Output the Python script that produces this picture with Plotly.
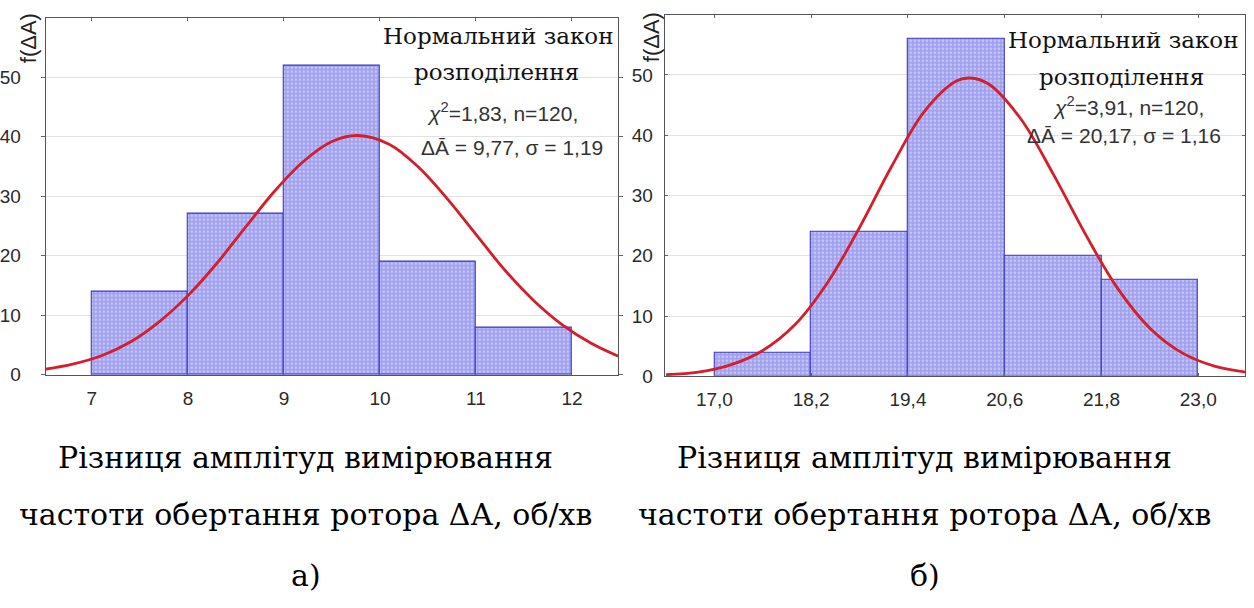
import plotly.graph_objects as go

W, H = 1254, 608

# ---- data (a) ----
edges_a = [7, 8, 9, 10, 11, 12]
counts_a = [14, 27, 52, 19, 8]
curve_a_x = [6.5, 6.8, 7.1, 7.4, 7.7, 8.0, 8.3, 8.6, 8.9, 9.2, 9.5, 9.77, 10.1, 10.4, 10.7, 11.0, 11.3, 11.6, 11.9, 12.2, 12.5]
curve_a_y = [0.9, 1.8, 3.2, 5.5, 8.9, 13.3, 18.7, 24.8, 30.8, 35.8, 39.2, 40.2, 38.7, 34.9, 29.6, 23.6, 17.6, 12.5, 8.4, 5.3, 3.0]
xticks_a = [7, 8, 9, 10, 11, 12]
xticktext_a = ["7", "8", "9", "10", "11", "12"]

# ---- data (б) ----
edges_b = [17.0, 18.2, 19.4, 20.6, 21.8, 23.0]
counts_b = [4, 24, 56, 20, 16]
curve_b_x = [16.4, 16.8, 17.2, 17.6, 18.0, 18.4, 18.8, 19.2, 19.6, 20.0, 20.17, 20.4, 20.8, 21.2, 21.6, 22.0, 22.4, 22.8, 23.2, 23.6]
curve_b_y = [0.3, 0.7, 1.9, 4.3, 8.6, 15.5, 24.7, 34.9, 43.9, 49.0, 49.5, 48.5, 42.7, 33.6, 23.6, 14.6, 8.0, 3.9, 1.7, 0.7]
xticks_b = [17.0, 18.2, 19.4, 20.6, 21.8, 23.0]
xticktext_b = ["17,0", "18,2", "19,4", "20,6", "21,8", "23,0"]

yticks = [0, 10, 20, 30, 40, 50]

stats_a = ["Нормальний закон", "розподілення", "<i>χ</i><sup>2</sup>=1,83, n=120,", "ΔĀ = 9,77, σ = 1,19"]
stats_b = ["Нормальний закон", "розподілення", "<i>χ</i><sup>2</sup>=3,91, n=120,", "ΔĀ = 20,17, σ = 1,16"]
caption_lines = ["Різниця амплітуд вимірювання", "частоти обертання ротора ΔА, об/хв"]
panel_labels = ["а)", "б)"]
ytitle = "f(ΔA)"


def px(x):
    return x / W


def py(y):
    return 1 - y / H


BAR_FILL = "#a0a0f0"
BAR_LINE = "#3838c4"
CURVE = "#d41e2a"
SANS = "Liberation Sans"
SERIF = "DejaVu Serif"

fig = go.Figure()


def add_panel(edges, counts, cx, cy, xa, ya):
    centers = [(edges[i] + edges[i + 1]) / 2 for i in range(len(counts))]
    widths = [edges[i + 1] - edges[i] for i in range(len(counts))]
    fig.add_trace(go.Bar(
        x=centers, y=counts, width=widths, xaxis=xa, yaxis=ya,
        marker=dict(color=BAR_FILL, line=dict(color=BAR_LINE, width=1.1),
                    pattern=dict(shape=".", fgcolor="#f0f0ff", bgcolor=BAR_FILL, size=4, solidity=0.3)),
        showlegend=False, hoverinfo="skip"))
    fig.add_trace(go.Scatter(
        x=cx, y=cy, mode="lines", xaxis=xa, yaxis=ya,
        line=dict(color=CURVE, width=2.8, shape="spline", smoothing=1.0),
        showlegend=False, hoverinfo="skip"))


add_panel(edges_a, counts_a, curve_a_x, curve_a_y, "x", "y")
add_panel(edges_b, counts_b, curve_b_x, curve_b_y, "x2", "y2")

tickfont = dict(family=SANS, size=19, color="#2a2a2a")
axline = dict(showline=True, linecolor="#555555", linewidth=1.3, mirror="ticks", zeroline=False)

fig.update_layout(
    width=W, height=H, margin=dict(l=0, r=0, t=0, b=0),
    paper_bgcolor="white", plot_bgcolor="white", bargap=0,
    xaxis=dict(domain=[px(40), px(615)], range=[6.52, 12.48], tickvals=xticks_a, ticktext=xticktext_a,
               ticks="inside", ticklen=3, tickcolor="#666", showgrid=False, tickfont=tickfont,
               ticklabelstandoff=6, anchor="y", **axline),
    yaxis=dict(domain=[py(381.7), py(18)], range=[0, 60], tickvals=yticks, ticks="outside", ticklen=4,
               tickcolor="#666", showgrid=True, gridcolor="#e2e2e2", gridwidth=1, tickfont=tickfont,
               ticklabelstandoff=16, anchor="x", **axline),
    xaxis2=dict(domain=[px(662), px(1245)], range=[16.385, 23.58], tickvals=xticks_b, ticktext=xticktext_b,
                ticks="inside", ticklen=3, tickcolor="#666", showgrid=False, tickfont=tickfont,
                ticklabelstandoff=6, anchor="y2", **axline),
    yaxis2=dict(domain=[py(383.3), py(15)], range=[0, 60], tickvals=yticks, ticks="inside", ticklen=3,
                tickcolor="#666", showgrid=True, gridcolor="#e2e2e2", gridwidth=1, tickfont=tickfont,
                ticklabelstandoff=7, anchor="x2", **axline),
)

ann = []
# y-axis titles
for x, y in [(22, 39), (648, 38)]:
    ann.append(dict(x=px(x), y=py(y), xref="paper", yref="paper", text=ytitle, textangle=-90,
                    showarrow=False, font=dict(family=SANS, size=22, color="#222222"),
                    xanchor="center", yanchor="middle"))

serif_head = dict(family=SERIF, size=23, color="#111111")
sans_stat = dict(family=SANS, size=21, color="#333333")

pos_a = [(494, 37), (493, 73), (499, 114), (508, 150)]
pos_b = [(1122, 41), (1121, 78), (1128, 108), (1123, 138)]
for stats, pos in [(stats_a, pos_a), (stats_b, pos_b)]:
    for i, (t, (x, y)) in enumerate(zip(stats, pos)):
        ann.append(dict(x=px(x), y=py(y), xref="paper", yref="paper", text=t, showarrow=False,
                        font=serif_head if i < 2 else sans_stat, xanchor="center", yanchor="middle"))

cap_font = dict(family=SERIF, size=30, color="#000000")
for cx, lab in [(301, panel_labels[0]), (923, panel_labels[1])]:
    for t, y in zip(caption_lines + [lab], [466, 524, 586]):
        ann.append(dict(x=px(cx), y=py(y), xref="paper", yref="paper", text=t, showarrow=False,
                        font=cap_font, xanchor="center", yanchor="middle"))

fig.update_layout(annotations=ann)
fig.write_html("out.html")
